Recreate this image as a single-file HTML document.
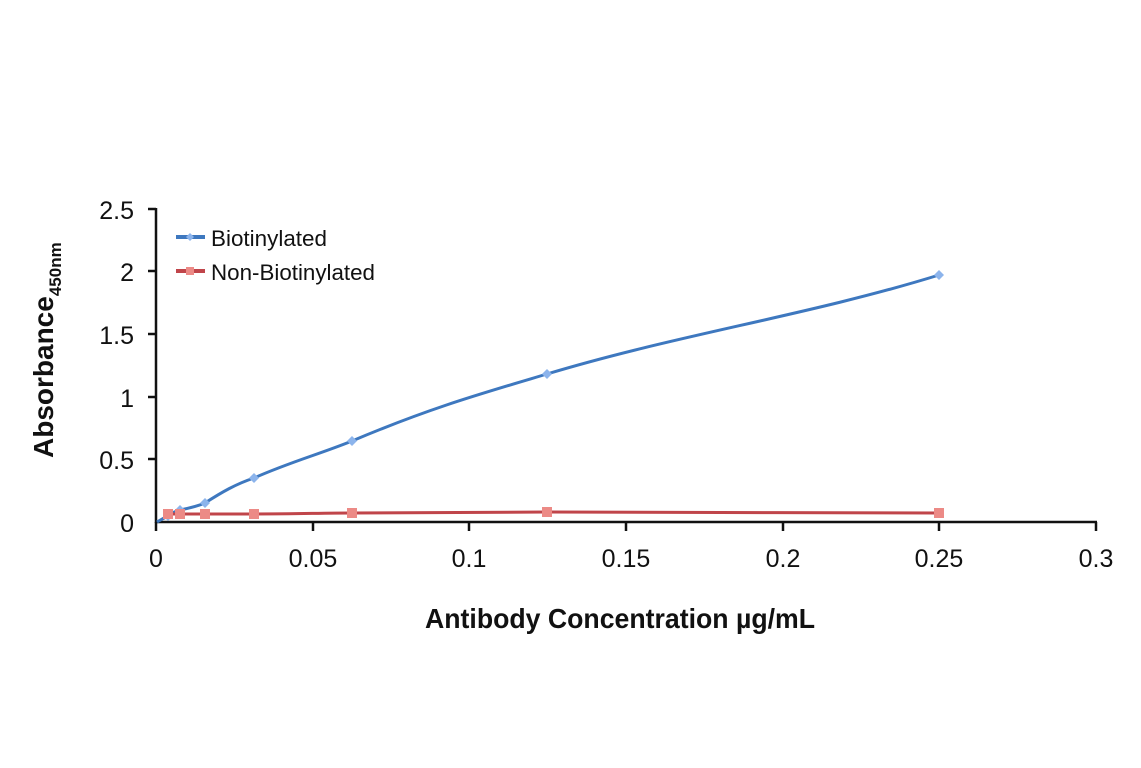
<!DOCTYPE html><html><head><style>body{margin:0;background:#fff}svg{display:block}text{font-family:"Liberation Sans",sans-serif;fill:#111}</style></head><body>
<svg width="1141" height="768" viewBox="0 0 1141 768">
<g stroke="#111" stroke-width="2.5" fill="none">
<line x1="156" y1="208" x2="156" y2="523"/>
<line x1="155" y1="522" x2="1097" y2="522"/>
<line x1="148" y1="209" x2="156" y2="209"/><line x1="148" y1="271" x2="156" y2="271"/><line x1="148" y1="334" x2="156" y2="334"/><line x1="148" y1="397" x2="156" y2="397"/><line x1="148" y1="459" x2="156" y2="459"/>
<line x1="156" y1="522" x2="156" y2="531"/><line x1="313" y1="522" x2="313" y2="531"/><line x1="469" y1="522" x2="469" y2="531"/><line x1="626" y1="522" x2="626" y2="531"/><line x1="783" y1="522" x2="783" y2="531"/><line x1="939" y1="522" x2="939" y2="531"/><line x1="1096" y1="522" x2="1096" y2="531"/>
</g>
<g font-size="25" text-anchor="end">
<text x="134" y="219">2.5</text><text x="134" y="281">2</text><text x="134" y="344">1.5</text><text x="134" y="407">1</text><text x="134" y="469">0.5</text><text x="134" y="532">0</text>
</g>
<g font-size="25" text-anchor="middle">
<text x="156" y="567">0</text><text x="313" y="567">0.05</text><text x="469" y="567">0.1</text><text x="626" y="567">0.15</text><text x="783" y="567">0.2</text><text x="939" y="567">0.25</text><text x="1096" y="567">0.3</text>
</g>
<text x="620" y="628" font-size="28" font-weight="bold" text-anchor="middle" textLength="390" lengthAdjust="spacingAndGlyphs">Antibody Concentration µg/mL</text>
<text transform="translate(53,458) rotate(-90)" font-size="28" font-weight="bold">Absorbance<tspan font-size="17" dy="8">450nm</tspan></text>
<path d="M157,522 C162,519 164,518 168,516 C172,513 176,511 180,510 C190,508 198,506 205,503 C222,492 236,484 254,478 C290,462 320,454 352,441 C430,408 480,394 547,374 C680,334 810,315 939,275" stroke="#3e78bf" stroke-width="3" fill="none"/>
<path d="M168,514 L205,514 L254,514 C300,514 320,513 352,513 C450,512 500,512 547,512 C700,512 800,513 939,513" stroke="#c0454a" stroke-width="3" fill="none"/>
<g fill="#8cb4ec">
<path d="M168,511l5,5-5,5-5-5z"/><path d="M180,505l5,5-5,5-5-5z"/><path d="M205,498l5,5-5,5-5-5z"/><path d="M254,473l5,5-5,5-5-5z"/><path d="M352,436l5,5-5,5-5-5z"/><path d="M547,369l5,5-5,5-5-5z"/><path d="M939,270l5,5-5,5-5-5z"/>
</g>
<g fill="#ec8a86">
<rect x="163" y="509" width="10" height="10"/><rect x="175" y="509" width="10" height="10"/><rect x="200" y="509" width="10" height="10"/><rect x="249" y="509" width="10" height="10"/><rect x="347" y="508" width="10" height="10"/><rect x="542" y="507" width="10" height="10"/><rect x="934" y="508" width="10" height="10"/>
</g>
<line x1="176" y1="237" x2="205" y2="237" stroke="#3e78bf" stroke-width="4"/><path d="M190,233l4,4-4,4-4-4z" fill="#8cb4ec"/>
<line x1="176" y1="271" x2="205" y2="271" stroke="#c0454a" stroke-width="4"/><rect x="186" y="267" width="8" height="8" fill="#ec8a86"/>
<g font-size="22"><text x="211" y="246" textLength="116" lengthAdjust="spacingAndGlyphs">Biotinylated</text><text x="211" y="280" textLength="164" lengthAdjust="spacingAndGlyphs">Non-Biotinylated</text></g>
</svg></body></html>
